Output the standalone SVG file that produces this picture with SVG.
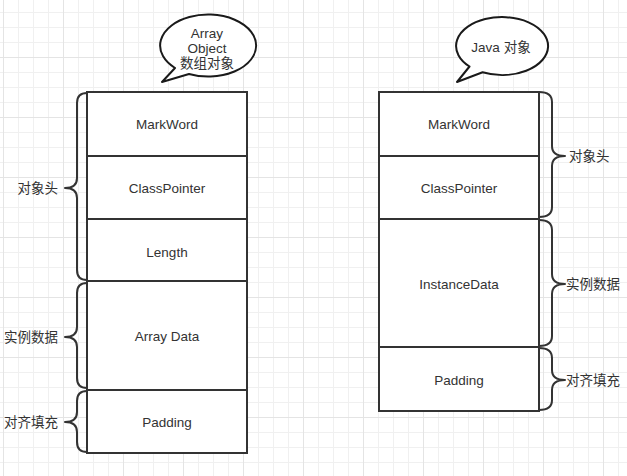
<svg xmlns="http://www.w3.org/2000/svg" width="627" height="476" viewBox="0 0 627 476">
<defs>
<pattern id="minor" x="3" y="12" width="15" height="15" patternUnits="userSpaceOnUse">
<path d="M0,0.5 H15 M0.5,0 V15" fill="none" stroke="#f0f0f0" stroke-width="1"/>
</pattern>
<pattern id="major" x="3" y="-3" width="60" height="60" patternUnits="userSpaceOnUse">
<path d="M0,0.5 H60 M0.5,0 V60" fill="none" stroke="#e4e4e4" stroke-width="1"/>
</pattern>
</defs>
<style>
.box{fill:#ffffff;stroke:#333333;stroke-width:2}
.brace{fill:none;stroke:#333333;stroke-width:2;stroke-linejoin:round}
.bubble{fill:#ffffff;stroke:#1a1a1a;stroke-width:2;stroke-linejoin:round}
text{font-family:"Liberation Sans","Noto Sans CJK SC",sans-serif;font-size:13.5px;fill:#333333;dominant-baseline:central}
.c{text-anchor:middle}
.r{text-anchor:end}
</style>
<rect width="627" height="476" fill="#ffffff"/>
<rect width="627" height="476" fill="url(#minor)"/>
<rect width="627" height="476" fill="url(#major)"/>

<g id="bubble-array">
<path class="bubble" d="M189,74 L162,82 L175,68 A48,31 0 1 1 189,74 Z"/>
<text class="c" x="207" y="33">Array</text>
<text class="c" x="207" y="48">Object</text>
<text class="c" x="207" y="63">数组对象</text>
</g>
<g id="bubble-java">
<path class="bubble" d="M482.6,72.3 L457,82 L469.5,66.5 A46,29 0 1 1 482.6,72.3 Z"/>
<text class="c" x="501" y="47">Java 对象</text>
</g>

<g id="a-markword"><rect class="box" x="87" y="92" width="160" height="64"/><text class="c" x="167" y="124">MarkWord</text></g>
<g id="a-classpointer"><rect class="box" x="87" y="156" width="160" height="63"/><text class="c" x="167" y="188">ClassPointer</text></g>
<g id="a-length"><rect class="box" x="87" y="219" width="160" height="62"/><text class="c" x="167" y="252">Length</text></g>
<g id="a-arraydata"><rect class="box" x="87" y="281" width="160" height="109"/><text class="c" x="167" y="336">Array Data</text></g>
<g id="a-padding"><rect class="box" x="87" y="390" width="160" height="63"/><text class="c" x="167" y="422">Padding</text></g>

<g id="j-markword"><rect class="box" x="379" y="92" width="160" height="64"/><text class="c" x="459" y="124">MarkWord</text></g>
<g id="j-classpointer"><rect class="box" x="379" y="156" width="160" height="63"/><text class="c" x="459" y="188">ClassPointer</text></g>
<g id="j-instancedata"><rect class="box" x="379" y="219" width="160" height="128"/><text class="c" x="459" y="284">InstanceData</text></g>
<g id="j-padding"><rect class="box" x="379" y="347" width="160" height="64"/><text class="c" x="459" y="380">Padding</text></g>

<g id="braces">
<path class="brace" d="M87,93 Q77,93 77,103 L77,178 Q77,188 65,188 Q77,188 77,198 L77,270 Q77,280 87,280"/>
<path class="brace" d="M87,283 Q77,283 77,293 L77,327 Q77,337 65,337 Q77,337 77,347 L77,378 Q77,388 87,388"/>
<path class="brace" d="M87,391 Q77,391 77,401 L77,412 Q77,422 65,422 Q77,422 77,432 L77,442 Q77,452 87,452"/>
<path class="brace" d="M539,92 Q552,92 552,102 L552,146 Q552,156 565,156 Q552,156 552,166 L552,207 Q552,217 539,217"/>
<path class="brace" d="M539,220 Q552,220 552,230 L552,274 Q552,284 565,284 Q552,284 552,294 L552,336 Q552,346 539,346"/>
<path class="brace" d="M539,348 Q552,348 552,358 L552,370 Q552,380 565,380 Q552,380 552,390 L552,400 Q552,410 539,410"/>
</g>

<g id="brace-labels">
<text class="r" x="58" y="188">对象头</text>
<text class="r" x="58" y="337">实例数据</text>
<text class="r" x="58" y="422">对齐填充</text>
<text x="569" y="156">对象头</text>
<text x="566" y="284">实例数据</text>
<text x="566" y="380">对齐填充</text>
</g>
</svg>
